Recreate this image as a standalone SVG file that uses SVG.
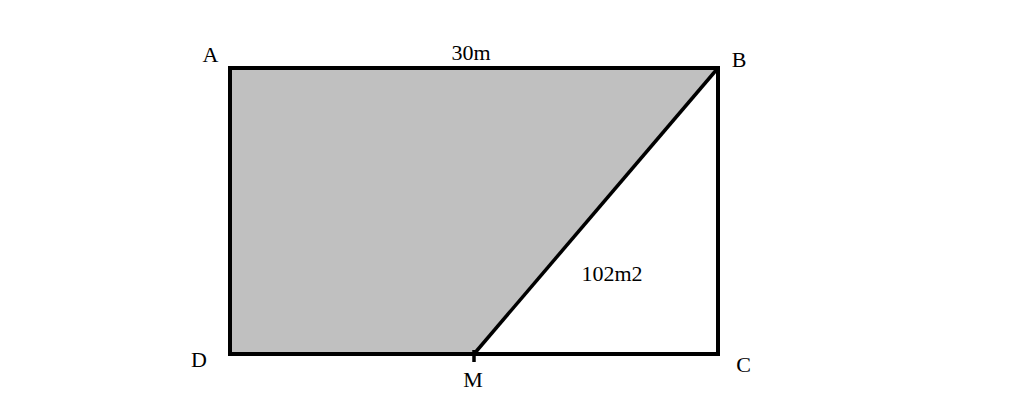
<svg xmlns="http://www.w3.org/2000/svg" width="1024" height="415" viewBox="0 0 1024 415">
<style>
.lbl{font-family:"Liberation Serif","Times New Roman",serif;font-size:22px;fill:#000}
.edge{stroke:#000;stroke-width:4;fill:none;stroke-linecap:square}
</style>
<rect width="1024" height="415" fill="#fff"/>
<g id="shaded">
<polygon points="230,68 718,68 474,354 230,354" fill="#c0c0c0"/>
</g>
<g id="connectors">
<rect x="230" y="68" width="488" height="286" class="edge"/>
<line x1="718" y1="68" x2="474" y2="354" stroke="#000" stroke-width="3.5"/>
<line x1="474" y1="350" x2="474" y2="362" stroke="#000" stroke-width="3.5"/>
</g>
<g id="A"><text class="lbl" x="210.5" y="62" text-anchor="middle">A</text></g>
<g id="B"><text class="lbl" x="739" y="67" text-anchor="middle">B</text></g>
<g id="C"><text class="lbl" x="743.5" y="372" text-anchor="middle">C</text></g>
<g id="D"><text class="lbl" x="199" y="367" text-anchor="middle">D</text></g>
<g id="M"><text class="lbl" x="473" y="387" text-anchor="middle">M</text></g>
<g id="len"><text class="lbl" x="471" y="60" text-anchor="middle">30m</text></g>
<g id="area"><text class="lbl" x="612" y="281" text-anchor="middle">102m2</text></g>
</svg>
